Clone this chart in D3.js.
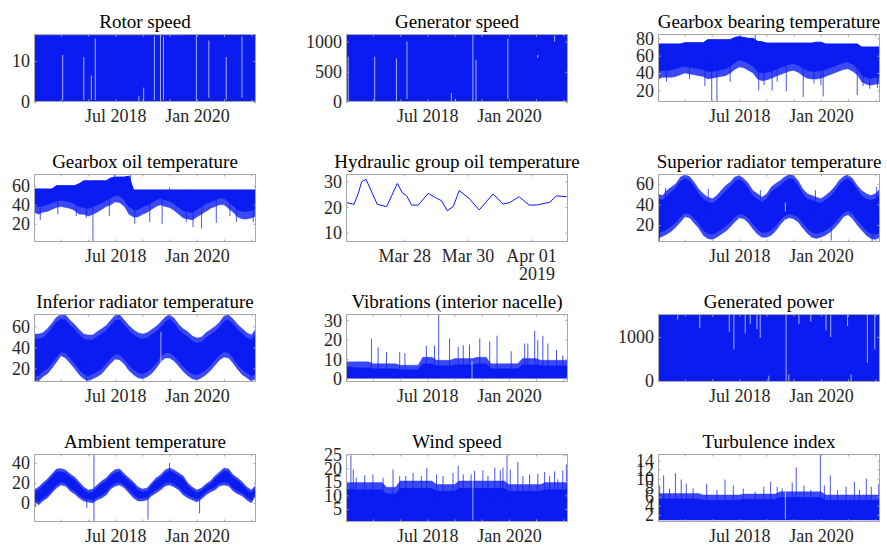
<!DOCTYPE html>
<html>
<meta charset="utf-8">
<script src="https://d3js.org/d3.v7.min.js"></script>
<style>
  body { margin: 0; background: #fff; }
  text { font-family: "Liberation Serif", "Times New Roman", serif; }
</style>
<body>
<div id="vis"></div>
<script>

// ---- data ----
// dense series are kept as monthly envelopes, Jan 2017 .. Feb 2021:
//   hi / lo       outer edge of the band (sparse, noisy fringe)
//   coreHi/coreLo edge of the solid part of the band
// plus single excursions (spikes) and holes in the record (gaps)

var rotorHi = [16.3,16.3,16.3,16.3,16.3,16.3,16.3,16.3,16.3,16.3, 16.3,16.3,16.3,16.3,16.3,16.3,16.3,16.3,16.3,16.3,
               16.3,16.3,16.3,16.3,16.3,16.3,16.3,16.3,16.3,16.3, 16.3,16.3,16.3,16.3,16.6,16.6,16.6,16.6,16.6,16.6,
               16.6,16.6,16.6,16.6,16.6,16.6,16.6,16.6,16.6,16.6];
var zeroLo = [0,0,0,0,0,0,0,0,0,0, 0,0,0,0,0,0,0,0,0,0, 0,0,0,0,0,0,0,0,0,0, 0,0,0,0,0,0,0,0,0,0, 0,0,0,0,0,0,0,0,0,0];
var rotorGaps = [["2017-07-13",0.5,11.5],["2017-12-02",0.5,11],["2018-01-21",0.5,6.5],["2018-02-17",0.5,15.5],
                 ["2018-12-07",0.2,1.5],["2019-01-08",0.2,3.5],["2019-03-21",0.5,16],["2019-05-01",0,16.6],
                 ["2019-05-21",0.5,16],["2019-12-28",0,16.6],["2020-03-21",1,15],["2020-07-16",0.5,11],["2020-10-30",1,16]];

var genHi = [1120,1120,1120,1120,1120,1120,1120,1120,1120,1120, 1120,1120,1120,1120,1120,1120,1120,1120,1120,1120,
             1120,1120,1120,1120,1120,1120,1120,1120,1120,1120, 1120,1120,1120,1120,1120,1120,1120,1120,1120,1120,
             1120,1120,1120,1120,1120,1120,1120,1120,1120,1120];
var genGaps = [["2017-01-16",0,750],["2017-07-13",0,750],["2017-12-06",20,720],["2018-02-15",50,1000],
               ["2018-12-10",0,150],["2019-01-07",0,50],["2019-05-04",0,1125],["2019-05-25",0,700],
               ["2019-12-25",50,1050],["2020-07-13",730,780],["2020-11-03",1000,1100]];

var bearingHi = [73.5,73.5,73.5,73.5,73.5,73.5,75,75,75,75, 75,78.5,78.5,78.5,78.5,78.5,78.5,81,82,81,
                 80,80,76.5,76,74.5,74.5,74.5,74.5,74.5,74.5, 74.5,74.5,74.5,74.5,74.5,75.5,75.5,73.5,73.5,73.5,
                 73.5,73.5,73.5,73.5,73.5,70,70,70,70,70];
var bearingLo = [33,35,35,35,36,38,40,39,38,37, 36,33,34,35,36,37,40,44,47,46,
                 43,40,33,31,32,34,36,38,40,42, 43,41,37,34,33,33,34,36,38,40,
                 42,44,45,42,38,30,27,26,27,28];
var bearingCoreLo = [42,43,43,44,45,47,48,47,46,45, 44,42,42,43,44,45,48,52,55,54,
                     51,48,42,40,41,42,44,46,48,50, 51,49,46,43,42,42,43,44,46,48,
                     50,52,53,50,46,38,35,34,35,36];
var bearingSpikes = [["2017-01-05",28],["2017-02-27",30],["2017-08-01",33],["2017-11-12",25],["2017-12-28",8],
                     ["2018-02-01",7.5],["2018-05-01",30],["2018-07-07",85],["2018-10-16",84],["2018-11-09",20],
                     ["2018-12-15",26],["2019-02-07",20],["2019-03-13",30],["2019-05-13",19],["2019-09-04",12.5],
                     ["2019-11-15",28],["2020-01-01",26],["2020-01-16",13],["2020-09-01",14.5],["2020-10-10",25],
                     ["2020-11-24",22],["2021-01-15",23]];

var oilHi = [56.5,56.5,56.5,56.5,56.5,60,60,60,60,60, 62,65,65,65,65,65,65,68,69,69,
             69,70,55.5,55.5,55.5,55.5,55.5,55.5,55.5,55.5, 55.5,55.5,55.5,55.5,55.5,55.5,55.5,55.5,55.5,55.5,
             55.5,55.5,55.5,55.5,55.5,55.5,55.5,55.5,55.5,55.5];
var oilLo = [32,30,32,33,35,37,38,37,36,34, 30,30,28,30,32,35,38,40,43,42,
             38,30,27,27,30,32,35,38,40,38, 37,34,30,26,25,24,27,30,33,36,
             38,40,40,36,32,27,25,25,26,28];
var oilCoreLo = [39,38,39,40,42,44,45,44,43,41, 38,37,36,38,40,42,45,47,50,49,
                 45,38,35,35,38,40,42,45,47,45, 44,41,37,34,33,32,35,38,41,43,
                 45,47,47,43,39,35,33,33,34,36];
var oilSpikes = [["2017-01-05",24],["2017-02-12",24],["2017-06-10",30],["2017-10-12",28],["2017-12-18",26],
                 ["2018-02-01",2],["2018-05-22",28],["2018-06-25",72],["2018-10-12",72],["2018-11-09",20],
                 ["2019-02-18",22],["2019-05-12",20],["2019-07-01",58],["2019-10-21",22],["2019-12-06",16.5],
                 ["2020-02-01",15],["2020-05-10",21],["2020-08-10",28],["2020-09-22",22],["2021-01-13",22]];

var hydTimes = ["2019-03-26T04:00","2019-03-26T10:00","2019-03-26T13:20","2019-03-26T15:50","2019-03-26T19:10",
                "2019-03-27T03:40","2019-03-27T10:45","2019-03-27T18:50","2019-03-27T22:35","2019-03-28T01:50",
                "2019-03-28T05:40","2019-03-28T10:40","2019-03-28T18:15","2019-03-29T00:30","2019-03-29T04:20",
                "2019-03-29T08:35","2019-03-29T13:10","2019-03-29T17:40","2019-03-30T01:00","2019-03-30T08:50",
                "2019-03-30T19:20","2019-03-31T02:55","2019-03-31T08:00","2019-03-31T15:00","2019-03-31T22:35",
                "2019-04-01T04:10","2019-04-01T14:10","2019-04-01T19:15","2019-04-02T02:50","2019-04-02T04:00"];
var hydValues = [21.8,21.1,25.4,30.0,30.9,21.1,20.2,29.3,25.7,24.5,
                 20.8,20.8,25.4,23.5,22.5,18.6,20.2,26.5,23.5,18.9,
                 25.2,21.2,21.8,24.1,20.8,20.8,21.9,24.4,24.1,23.5];
var hydTicks = ["2019-03-28T00:00","2019-03-30T00:00","2019-04-01T00:00"];

var supHi = [50,48.7,53.5,56.8,60,66.5,68.7,67,61.6,55, 50.3,47,45.5,48.7,53.5,58.4,61.6,66.5,68,65,
             60,53.5,50.3,47,50,56.8,60,63,66.5,68.7, 68,63,55,50.3,48.7,47,45.5,48.7,52,56.8,
             63,67,68.7,65,58.4,53.5,50.3,48.7,50.3,55];
var supLo = [7,9,11,14,18,23,28,27,22,17, 10,7,6,8,11,14,18,23,27,26,
             22,16,11,8,8,10,14,20,25,27, 26,23,17,12,8,7,8,10,13,17,
             22,28,30,26,20,15,10,7,6,8];
var supCoreHi = [45,44,48,52,56,62,65,63,57,50, 45,42,41,44,48,53,57,62,64,61,
                 55,48,45,42,45,52,55,58,62,65, 64,58,50,45,44,42,41,44,47,52,
                 58,63,65,61,54,48,45,44,45,50];
var supCoreLo = [12,14,16,19,23,28,32,31,27,22, 15,12,11,13,16,19,23,28,31,30,
                 27,21,16,13,13,15,19,25,29,31, 30,28,22,17,13,12,13,15,18,22,
                 27,32,34,31,25,20,15,12,11,13];
var supSpikes = [["2017-01-10",4],["2017-02-20",56],["2017-12-05",55],["2018-11-20",54],["2019-05-07",42],
                 ["2019-11-25",54],["2020-03-10",5],["2020-12-10",4],["2021-01-10",57]];
var supGaps = [["2019-05-07",33,42]];

var infHi = [53,53,54,58,63,69,71.5,71,66,62, 57,53,52,52,55,58,61,66,71,71,
             66,61,57,54,53,54,57,60,64,69, 71.5,68,62,58,55,51,49,50,54,57,
             60,64,70,71,67,62,58,54,52,58];
var infLo = [9,8,12,15,20,26,32,30,25,20, 14,10,8,10,12,15,20,25,29,28,
             24,18,14,11,10,12,15,20,26,30, 30,27,22,17,13,10,9,11,14,18,
             23,28,31,30,25,19,14,11,8,10];
var infCoreHi = [48,48,49,53,58,64,67,66,61,57, 52,48,47,47,50,53,56,61,66,66,
                 61,56,52,49,48,49,52,55,59,64, 67,63,57,53,50,46,44,45,49,52,
                 55,59,65,66,62,57,53,49,47,53];
var infCoreLo = [14,13,17,20,25,31,36,35,30,25, 19,15,13,15,17,20,25,30,34,33,
                 29,23,19,16,15,17,20,25,31,35, 35,32,27,22,18,15,14,16,19,23,
                 28,33,36,35,30,24,19,16,13,15];
var infSpikes = [["2017-01-12",7.5],["2017-12-20",7.5],["2020-12-28",7.5],["2019-04-10",49]];
var infGaps = [["2019-05-04",26,55]];

var vibHi = [8.6,8.6,8.6,8.6,8.6,8.6,7.7,7.7,7.7,7.7, 7.7,7.7,6.9,6.9,6.9,6.9,6.9,11,11,11,
             9.4,9.4,9.4,9.4,10.3,10.3,10.3,10.3,10.3,11, 11,11,7.7,7.7,7.7,7.7,7.7,7.7,7.7,10.3,
             10.3,10.3,10.3,9.4,9.4,9.4,9.4,9.4,9.4,9.4];
var vibCoreHi = [6,6,5.5,5.5,5.5,5.5,5,5,5,5, 5,5,4.5,4.5,4.5,4.5,4.5,7.5,7.5,7.5,
                 6.5,6.5,6.5,6.5,7,7,7,7,7,7.5, 7.5,7.5,5,5,5,5,5,5,5,7,
                 7,7,7,6.5,6.5,6.5,6.5,6.5,6.5,6.5];
var vibLo = [0.3,0.3,0.3,0.3,0.3,0.3,0.3,0.3,0.3,0.3, 0.3,0.3,0.3,0.3,0.3,0.3,0.3,0.3,0.3,0.3,
             0.3,0.3,0.3,0.3,0.3,0.3,0.3,0.3,0.3,0.3, 0.3,0.3,0.3,0.3,0.3,0.3,0.3,0.3,0.3,0.3,
             0.3,0.3,0.3,0.3,0.3,0.3,0.3,0.3,0.3,0.3];
var vibSpikes = [["2017-01-05",18],["2017-06-21",20.5],["2017-08-05",16],["2017-09-30",13.7],["2017-12-28",13.7],
                 ["2018-02-01",13],["2018-06-25",16.8],["2018-08-19",17],["2018-09-16",33],["2018-11-28",20.5],
                 ["2019-01-25",16.3],["2019-02-28",17.2],["2019-04-11",17.5],["2019-06-19",20.6],["2019-08-25",19],
                 ["2019-10-13",22],["2020-01-16",14],["2020-04-16",18],["2020-05-07",18],["2020-06-22",24.5],
                 ["2020-07-13",19.7],["2020-08-16",22],["2020-09-19",18],["2020-11-16",14.6],["2020-12-28",12]];
var vibGaps = [["2019-04-28",-1.7,9]];

var powerHi = [1520,1520,1520,1520,1520,1520,1520,1520,1520,1520, 1520,1520,1520,1520,1520,1520,1520,1520,1520,1520,
               1520,1520,1520,1520,1520,1520,1520,1520,1520,1520, 1520,1520,1520,1520,1520,1520,1520,1520,1520,1520,
               1520,1520,1520,1520,1520,1520,1520,1520,1520,1520];
var powerGaps = [["2017-05-14",1400,1525],["2017-10-09",1200,1525],["2018-04-25",1120,1525],["2018-05-26",720,1525],
                 ["2018-08-10",1080,1525],["2018-09-13",1300,1525],["2018-10-28",1180,1525],["2018-11-19",980,1525],
                 ["2019-01-16",-25,120],["2019-05-12",-25,1525],["2019-05-30",-25,150],["2019-08-06",1300,1525],
                 ["2019-10-25",1350,1525],["2020-02-04",1150,1525],["2020-03-07",1000,1525],["2020-06-28",1250,1525],
                 ["2020-07-22",-25,150],["2020-11-08",410,1525],["2020-12-28",720,1525]];

var ambHi = [13,16,20,24,29,34,34.5,33,29,26, 21,16,13,14,18,22,25,30,33.5,34,
             29,25,21,16,14,15,20,25,28,33, 35,33,30,27,20,16,13,15,19,22,
             27,31,35,34,28,25,21,16,13,18];
var ambLo = [2,-2,2,5,10,15,18,17,12,9, 5,2,1,0,3,5,8,14,17,18,
             15,10,5,2,2,3,7,10,13,17, 18,16,13,8,5,3,1,4,8,11,
             13,17,18,17,12,9,7,3,0,8];
var ambCoreHi = [10,13,17,21,26,31,31,30,26,23, 18,13,10,11,15,19,22,27,30,31,
                 26,22,18,13,11,12,17,22,25,30, 32,30,27,24,17,13,10,12,16,19,
                 24,28,32,31,25,22,18,13,10,15];
var ambCoreLo = [5,1,5,8,13,18,21,20,15,12, 8,5,4,3,6,8,11,17,20,21,
                 18,13,8,5,5,6,10,13,16,20, 21,19,16,11,8,6,4,7,11,14,
                 16,20,21,20,15,12,10,6,3,11];
var ambSpikes = [["2017-01-12",-4],["2017-12-22",-5],["2018-02-08",49],["2018-02-08",-19],
                 ["2019-02-06",-16.7],["2019-07-01",40],["2020-01-19",-10.5]];

var windHi = [14.7,14.7,14.7,14.7,14.7,14.7,14.7,14.7,14.7,13, 13,13,15.3,15.3,15.3,15.3,15.3,15.3,15.3,15.3,
              14,14,14,14,14,15.3,15.3,15.3,15.3,15.3, 15.3,15.3,15.3,15.3,15.3,15.3,14,14,14,14,
              14,14,14,14,14.7,14.7,14.7,14.7,14.7,14.7];
var windCoreHi = [12,12,12,12,12,12,12,12,12,10.5, 10.5,10.5,12.5,12.5,12.5,12.5,12.5,12.5,12.5,12.5,
                  11.5,11.5,11.5,11.5,11.5,12.5,12.5,12.5,12.5,12.5, 12.5,12.5,12.5,12.5,12.5,12.5,11.5,11.5,11.5,11.5,
                  11.5,11.5,11.5,11.5,12,12,12,12,12,12];
var windLo = [0.4,0.4,0.4,0.4,0.4,0.4,0.4,0.4,0.4,0.4, 0.4,0.4,0.4,0.4,0.4,0.4,0.4,0.4,0.4,0.4,
              0.4,0.4,0.4,0.4,0.4,0.4,0.4,0.4,0.4,0.4, 0.4,0.4,0.4,0.4,0.4,0.4,0.4,0.4,0.4,0.4,
              0.4,0.4,0.4,0.4,0.4,0.4,0.4,0.4,0.4,0.4];
var windSpikes = [["2017-01-05",17.7],["2017-02-03",24.8],["2017-02-19",19.5],["2017-03-11",16.5],["2017-05-07",17.4],
                  ["2017-07-01",17.7],["2017-09-07",16.5],["2017-11-13",19.5],["2017-12-28",17.1],["2018-02-07",17.1],
                  ["2018-03-28",18.3],["2018-05-22",17.1],["2018-06-28",20.2],["2018-09-01",17.7],["2018-10-15",17.1],
                  ["2018-12-21",18.3],["2019-01-25",20.8],["2019-02-28",17.7],["2019-04-22",17.7],["2019-05-15",19],
                  ["2019-07-10",19.2],["2019-08-13",17.1],["2019-09-28",20.2],["2019-11-04",19.2],["2019-11-22",20.2],
                  ["2019-12-19",24.8],["2020-01-10",19.5],["2020-03-01",22.3],["2020-04-04",17.1],["2020-05-19",17.7],
                  ["2020-07-13",17.9],["2020-08-28",18.6],["2020-10-01",17.1],["2020-11-03",18.8],["2020-11-25",15.9],
                  ["2020-12-28",19.2],["2021-01-21",21.4]];
var windGaps = [["2019-05-04",0.8,16]];

var turbHi = [6.7,6.7,6.7,6.7,6.7,6.7,6.7,6.7,6.7,6.7, 6.4,6.4,6.4,6.4,6.4,6.4,6.4,6.4,6.4,6.6,
              6.6,6.6,6.6,6.6,6.6,6.6,6.6,7.1,7.1,7.1, 7.1,7.1,7.1,7.1,7.1,7.1,7.1,6.4,6.4,6.4,
              6.4,6.4,6.4,6.4,6.4,6.4,6.4,6.4,6.4,6.4];
var turbCoreHi = [5.5,5.5,5.5,5.5,5.5,5.5,5.5,5.5,5.5,5.5, 5.2,5.2,5.2,5.2,5.2,5.2,5.2,5.2,5.2,5.4,
                  5.4,5.4,5.4,5.4,5.4,5.4,5.4,5.8,5.8,5.8, 5.8,5.8,5.8,5.8,5.8,5.8,5.8,5.2,5.2,5.2,
                  5.2,5.2,5.2,5.2,5.2,5.2,5.2,5.2,5.2,5.2];
var turbLo = [0.9,0.9,0.9,0.9,0.9,0.9,0.9,0.9,0.9,0.9, 0.9,0.9,0.9,0.9,0.9,0.9,0.9,0.9,0.9,0.9,
              0.9,0.9,0.9,0.9,0.9,0.9,0.9,0.9,0.9,0.9, 0.9,0.9,0.9,0.9,0.9,0.9,0.9,0.9,0.9,0.9,
              0.9,0.9,0.9,0.9,0.9,0.9,0.9,0.9,0.9,0.9];
var turbSpikes = [["2017-01-12",8.5],["2017-02-08",10.7],["2017-03-19",7.8],["2017-04-28",11.2],["2017-06-06",9.8],
                  ["2017-07-10",8.9],["2017-08-25",7.8],["2017-11-24",8.9],["2018-02-01",7.5],["2018-03-27",9.8],
                  ["2018-05-22",8.5],["2018-07-28",7.8],["2018-10-16",7.1],["2018-12-13",8.2],["2019-01-28",9.3],
                  ["2019-03-13",8.2],["2019-04-15",7.8],["2019-06-22",9.1],["2019-07-19",12.5],["2019-09-09",8.5],
                  ["2019-10-25",7.5],["2019-12-28",15.2],["2020-01-24",8.5],["2020-03-04",10.7],["2020-04-22",7.5],
                  ["2020-06-18",8.2],["2020-08-13",9.3],["2020-09-16",7.5],["2020-11-01",10],["2020-12-04",8.2],
                  ["2021-01-24",8.9]];
var turbGaps = [["2019-05-07",1.0,7]];

var xLabels = ["2018-07-01","2020-01-01"];

var panels = [
  {title: "Rotor speed", y: [0, 16.6], ticks: [0, 10], hi: rotorHi, lo: zeroLo, gaps: rotorGaps},
  {title: "Generator speed", y: [0, 1125], ticks: [0, 500, 1000], hi: genHi, lo: zeroLo, gaps: genGaps},
  {title: "Gearbox bearing temperature", y: [6.6, 85], ticks: [20, 40, 60, 80], hi: bearingHi, lo: bearingLo, coreLo: bearingCoreLo, spikes: bearingSpikes},
  {title: "Gearbox oil temperature", y: [0.9, 72.2], ticks: [20, 40, 60], hi: oilHi, lo: oilLo, coreLo: oilCoreLo, spikes: oilSpikes},
  {title: "Hydraulic group oil temperature", y: [6.3, 33], ticks: [10, 20, 30], times: hydTimes, values: hydValues},
  {title: "Superior radiator temperature", y: [3.5, 69.5], ticks: [20, 40, 60], hi: supHi, lo: supLo, coreHi: supCoreHi, coreLo: supCoreLo, spikes: supSpikes, gaps: supGaps},
  {title: "Inferior radiator temperature", y: [7, 72], ticks: [20, 40, 60], hi: infHi, lo: infLo, coreHi: infCoreHi, coreLo: infCoreLo, spikes: infSpikes, gaps: infGaps},
  {title: "Vibrations (interior nacelle)", y: [-1.7, 33.1], ticks: [0, 10, 20, 30], hi: vibHi, lo: vibLo, coreHi: vibCoreHi, spikes: vibSpikes, gaps: vibGaps},
  {title: "Generated power", y: [-25, 1525], ticks: [0, 1000], hi: powerHi, lo: zeroLo, gaps: powerGaps},
  {title: "Ambient temperature", y: [-19, 49], ticks: [0, 20, 40], hi: ambHi, lo: ambLo, coreHi: ambCoreHi, coreLo: ambCoreLo, spikes: ambSpikes},
  {title: "Wind speed", y: [0.2, 25.2], ticks: [5, 10, 15, 20, 25], hi: windHi, lo: windLo, coreHi: windCoreHi, spikes: windSpikes, gaps: windGaps},
  {title: "Turbulence index", y: [0.4, 15.45], ticks: [2, 4, 6, 8, 10, 12, 14], hi: turbHi, lo: turbLo, coreHi: turbCoreHi, spikes: turbSpikes, gaps: turbGaps}
];

// ---- layout ----
var total_width = 887, total_height = 547;
var colX = [34, 346, 658], rowY = [34, 174, 314, 454];
var pw = 222, ph = 68;
var blue = "#0a1cf2", boxColor = "#a8a8a8", labelColor = "#262626";

var parseDay = d3.timeParse("%Y-%m-%d"),
    parseTime = d3.timeParse("%Y-%m-%dT%H:%M");

var start = new Date(2017, 0, 1), end = new Date(2021, 1, 1);
var months = d3.timeMonth.range(start, d3.timeDay.offset(end, 1));
var halfYears = d3.timeMonth.every(6).range(new Date(2017, 6, 1), end);
var labelled = xLabels.map(function(s) { return +parseDay(s); });

var svg = d3.select("#vis")
  .append("svg")
    .attr("width", total_width)
    .attr("height", total_height);

panels.forEach(function(p, i) {
  var col = i % 3, row = Math.floor(i / 3);
  var g = svg.append("g")
    .attr("transform", "translate(" + colX[col] + "," + rowY[row] + ")");

  var hyd = !!p.times;
  var x = d3.scaleTime()
    .domain(hyd ? [parseTime("2019-03-26T04:00"), parseTime("2019-04-02T04:00")] : [start, end])
    .range([0, pw]);
  var y = d3.scaleLinear().domain(p.y).range([ph, 0]);

  g.append("clipPath").attr("id", "clip" + i)
    .append("rect").attr("width", pw).attr("height", ph);
  var plot = g.append("g").attr("clip-path", "url(#clip" + i + ")");

  if (hyd) {
    var pts = p.times.map(function(t, k) { return [parseTime(t), p.values[k]]; });
    plot.append("path")
      .datum(pts)
      .attr("fill", "none")
      .attr("stroke", blue)
      .attr("stroke-width", 1)
      .attr("d", d3.line().x(function(d) { return x(d[0]); }).y(function(d) { return y(d[1]); }));
  } else {
    var band = function(hi, lo) {
      return d3.area()
        .x(function(d, k) { return x(months[k]); })
        .y0(function(d, k) { return y(lo[k]); })
        .y1(function(d) { return y(d); })(hi);
    };
    var cHi = p.coreHi || p.hi, cLo = p.coreLo || p.lo;
    var hasFringe = !!(p.coreHi || p.coreLo);

    // sparse fringe, a little lighter
    if (hasFringe) {
      plot.append("path")
        .attr("d", band(p.hi, p.lo))
        .attr("fill", blue)
        .attr("fill-opacity", 0.8)
        .attr("stroke", blue)
        .attr("stroke-opacity", 0.4)
        .attr("stroke-width", 0.8);
    }
    // solid part of the trace
    plot.append("path")
      .attr("d", band(cHi, cLo))
      .attr("fill", blue)
      .attr("stroke", blue)
      .attr("stroke-width", 0.8);

    // spikes: from the middle of the band out to the value
    var bis = d3.bisector(function(d) { return d; }).center;
    plot.selectAll(".spike")
      .data(p.spikes || [])
      .enter()
      .append("line")
        .attr("x1", function(d) { return x(parseDay(d[0])); })
        .attr("x2", function(d) { return x(parseDay(d[0])); })
        .attr("y1", function(d) {
          var k = bis(months, parseDay(d[0]));
          return y((p.hi[k] + p.lo[k]) / 2);
        })
        .attr("y2", function(d) { return y(d[1]); })
        .attr("stroke", blue)
        .attr("stroke-opacity", 0.75)
        .attr("stroke-width", 1);

    // holes in the record
    plot.selectAll(".gap")
      .data(p.gaps || [])
      .enter()
      .append("line")
        .attr("x1", function(d) { return x(parseDay(d[0])); })
        .attr("x2", function(d) { return x(parseDay(d[0])); })
        .attr("y1", function(d) { return y(d[1]); })
        .attr("y2", function(d) { return y(d[2]); })
        .attr("stroke", "#fff")
        .attr("stroke-opacity", 0.65)
        .attr("stroke-width", 1);
  }

  // box
  g.append("rect")
    .attr("x", 0.5).attr("y", 0.5)
    .attr("width", pw - 1).attr("height", ph - 1)
    .attr("fill", "none")
    .attr("stroke", boxColor)
    .attr("stroke-width", 1);

  // Y axis
  var yAx = g.append("g")
    .call(d3.axisLeft(y).tickValues(p.ticks).tickFormat(d3.format("d"))
      .tickSizeInner(-2.5).tickSizeOuter(0).tickPadding(4));
  g.append("g")
    .attr("transform", "translate(" + pw + ",0)")
    .call(d3.axisRight(y).tickValues(p.ticks).tickSizeInner(-2.5).tickSizeOuter(0).tickFormat(""));

  // X axis
  var xt = hyd ? hydTicks.map(parseTime) : halfYears;
  var fmt = hyd ? d3.timeFormat("%b %d") : function(d) {
    return labelled.indexOf(+d) >= 0 ? d3.timeFormat("%b %Y")(d) : "";
  };
  g.append("g")
    .attr("transform", "translate(0," + ph + ")")
    .call(d3.axisBottom(x).tickValues(xt).tickSizeInner(-2.5).tickSizeOuter(0).tickPadding(7.4).tickFormat(fmt));
  g.append("g")
    .call(d3.axisTop(x).tickValues(xt).tickSizeInner(-2.5).tickSizeOuter(0).tickFormat(""));

  g.selectAll(".domain").remove();
  g.selectAll(".tick line").attr("stroke", boxColor);
  g.selectAll(".tick text")
    .attr("fill", labelColor)
    .style("font-family", "'Liberation Serif', 'Times New Roman', serif")
    .style("font-size", "18px");
  yAx.selectAll(".tick text").attr("dy", "0.33em");

  if (hyd) {
    g.append("text")
      .attr("x", x(parseTime("2019-04-01T00:00")) + 24)
      .attr("y", ph + 38)
      .attr("text-anchor", "end")
      .attr("fill", labelColor)
      .style("font-size", "18px")
      .text("2019");
  }

  // title
  g.append("text")
    .attr("x", pw / 2)
    .attr("y", -6.5)
    .attr("text-anchor", "middle")
    .attr("fill", "#000")
    .style("font-size", "19px")
    .text(p.title);
});

</script>
</body>
</html>
